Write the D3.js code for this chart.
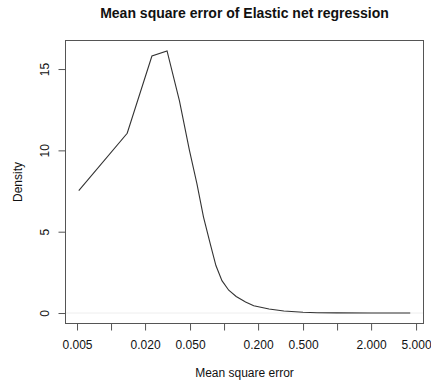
<!DOCTYPE html>
<html><head><meta charset="utf-8">
<script src="https://cdn.jsdelivr.net/npm/d3@7"></script>
<style>
html,body{margin:0;padding:0;background:#fff;}
svg text{font-family:"Liberation Sans",Arial,Helvetica,sans-serif;fill:#111;}
</style></head>
<body>
<svg id="chart" width="431" height="385"></svg>
<script>
// Density curve (x on log scale)
const mseValues = [0.00518, 0.0139, 0.0230, 0.0313, 0.0403, 0.0494, 0.0575, 0.0658, 0.0754, 0.0847, 0.0958, 0.110, 0.128, 0.155, 0.183, 0.25, 0.338, 0.5, 0.668, 1.0, 2.0, 4.44];
const densityValues = [7.53, 11.05, 15.80, 16.11, 13.04, 10.0, 7.96, 5.90, 4.26, 2.92, 1.99, 1.40, 1.02, 0.68, 0.45, 0.25, 0.12, 0.05, 0.02, 0.01, 0.005, 0.0];
const xTicks = [0.005, 0.01, 0.02, 0.05, 0.1, 0.2, 0.5, 1, 2, 5];
const xTickLabels = ["0.005", "", "0.020", "0.050", "", "0.200", "0.500", "", "2.000", "5.000"];
const yTicks = [0, 5, 10, 15];
const title = "Mean square error of Elastic net regression";
const xTitle = "Mean square error";
const yTitle = "Density";

const svg = d3.select("#chart");
const L = 65.5, R = 423.5, T = 40.5, B = 323.5;

// R-style 4% axis expansion
const lx = d3.extent(mseValues).map(Math.log10);
const dx = (lx[1] - lx[0]) * 0.04;
const x = d3.scaleLog().domain([Math.pow(10, lx[0] - dx), Math.pow(10, lx[1] + dx)]).range([L, R]);
const ymax = d3.max(densityValues);
const y = d3.scaleLinear().domain([-ymax * 0.04, ymax * 1.04]).range([B, T]);

// faint zero line
svg.append("line").attr("x1", L).attr("x2", R).attr("y1", y(0)).attr("y2", y(0))
  .attr("stroke", "#eeeeee").attr("stroke-width", 1);

// curve
const pts = mseValues.map((v, i) => [v, densityValues[i]]);
svg.append("path").datum(pts)
  .attr("d", d3.line().x(d => x(d[0])).y(d => y(d[1])))
  .attr("fill", "none").attr("stroke", "#333").attr("stroke-width", 1.1);

// box
svg.append("rect").attr("x", L).attr("y", T).attr("width", R - L).attr("height", B - T)
  .attr("fill", "none").attr("stroke", "#555").attr("stroke-width", 1);

// x axis
const xAxis = d3.axisBottom(x).tickValues(xTicks).tickSize(7).tickPadding(10)
  .tickFormat((d, i) => xTickLabels[i]);
const gx = svg.append("g").attr("transform", `translate(0,${B})`).call(xAxis);
gx.select(".domain").attr("d", `M${x(xTicks[0])},0H${x(xTicks[xTicks.length-1])}`).attr("stroke", "#555");
gx.selectAll(".tick line").attr("stroke", "#555");
gx.selectAll("text").attr("font-size", 12).attr("fill", "#111")
  .style("font-family", "'Liberation Sans',Arial,sans-serif");

// y axis
const yAxis = d3.axisLeft(y).tickValues(yTicks).tickSize(7).tickPadding(0).tickFormat(d3.format("d"));
const gy = svg.append("g").attr("transform", `translate(${L},0)`).call(yAxis);
gy.select(".domain").attr("d", `M0,${y(yTicks[0])}V${y(yTicks[yTicks.length-1])}`).attr("stroke", "#555");
gy.selectAll(".tick line").attr("stroke", "#555");
gy.selectAll(".tick text").attr("font-size", 12).attr("fill", "#111")
  .attr("x", null).attr("dy", null).attr("text-anchor", "middle")
  .attr("transform", "translate(-17,0) rotate(-90)")
  .style("font-family", "'Liberation Sans',Arial,sans-serif");

// titles
svg.append("text").attr("x", (L + R) / 2).attr("y", 17.5).attr("text-anchor", "middle")
  .attr("font-size", 14).attr("font-weight", "bold").text(title);
svg.append("text").attr("x", (L + R) / 2).attr("y", 377).attr("text-anchor", "middle")
  .attr("font-size", 12).text(xTitle);
svg.append("text").attr("transform", `translate(21.5,${(T + B) / 2}) rotate(-90)`)
  .attr("text-anchor", "middle").attr("font-size", 12).text(yTitle);
</script>
</body></html>
